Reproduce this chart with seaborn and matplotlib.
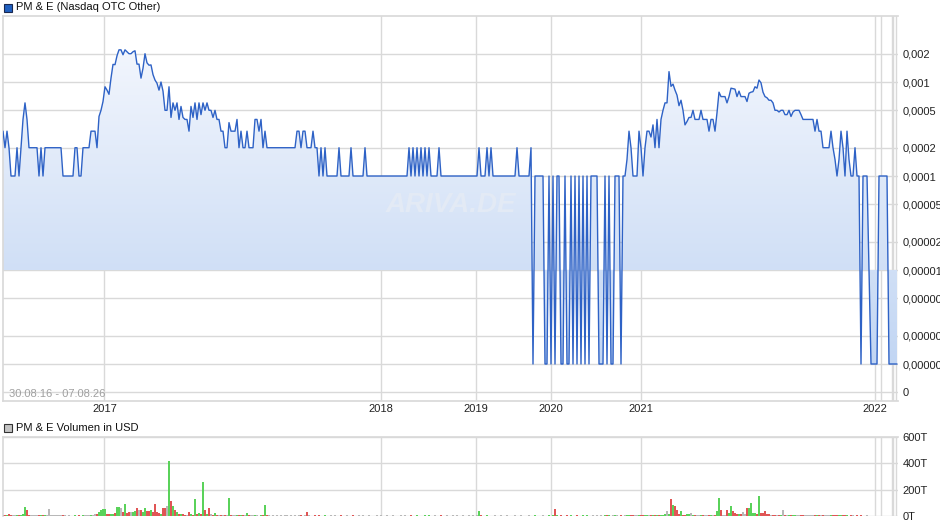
"""PM & E (Nasdaq OTC Other) price chart with volume panel"""
import numpy as np
import matplotlib
matplotlib.use('Agg')
import matplotlib.pyplot as plt
from matplotlib.colors import LinearSegmentedColormap
from matplotlib.patches import Rectangle
from matplotlib.ticker import NullLocator
import seaborn as sns

# Closing prices in millionths of a USD, one value per trading day with trades
price_micro = ([300, 200, 300, 200, 100, 100, 100, 200, 100, 200, 400, 600, 400, 200]
               + [200] * 4 + [100, 200, 100, 200] + [200] * 8 + [100] * 6
               + [200, 200, 100, 100] + [200] * 4 + [300] * 3 + [200]
               + [430, 500, 620, 890, 820, 740]
               + [1100, 1540, 1530, 1900, 2200, 2200, 1950, 2200, 2100, 2000, 2000, 2100, 2150]
               + [1550, 1550, 1100, 1400, 2000, 1600, 1510, 1520, 1200, 1050, 970, 820, 1000]
               + [800, 500, 500, 890, 420, 600, 500, 600, 400, 550, 420, 400, 400, 300]
               + [550, 420, 600, 400, 600, 450, 600, 500, 600, 500, 500, 420, 500, 400, 400,
                  300, 300, 200, 200, 370]
               + [300, 300, 300, 400, 200, 300, 200, 200, 300, 200, 200, 200, 400, 400, 300,
                  400, 200, 300, 200]
               + [200] * 14 + [300, 300, 200, 300, 300, 200, 200, 200, 300, 200, 200]
               + [100, 200, 100, 200, 100] + [100] * 5 + [200] + [100] * 5 + [200]
               + [100] * 6 + [200] + [100] * 21
               + [200, 100, 200, 100, 200, 100, 200, 100, 200, 100, 200]
               + [100] * 4 + [200] + [100] * 19 + [200] + [100] * 3 + [200, 100, 200]
               + [100] * 12 + [200] + [100] * 6 + [200] + [1] + [100] * 5 + [1, 1] + [100]
               + [1, 100, 1, 100, 100, 1, 1, 100, 1, 1, 100, 1, 100, 1, 100, 1, 100, 1, 100, 1]
               + [100] * 4 + [1] * 3 + [100, 1, 100, 1, 1, 100, 100, 100, 1, 100]
               + [100, 150, 300, 200, 100, 100, 100, 300, 200, 100, 200, 300, 300, 260, 350,
                  200, 400, 200, 400, 500, 600, 600, 1290, 900, 950, 820]
               + [725, 560, 640, 500, 350, 380, 420, 420, 500, 400, 400, 400, 500, 400, 400,
                  400, 300, 400, 400, 300]
               + [470, 780, 700, 700, 700, 600, 700, 860, 850, 840, 700, 800, 700, 700, 700,
                  620, 760, 780, 790, 890]
               + [860, 1050, 980, 780, 700, 680, 640, 640, 600, 500, 500, 480, 500, 500, 450,
                  450, 500, 430, 480, 500, 500, 500, 450, 400]
               + [400] * 5
               + [300, 400, 300, 300, 200, 200, 200, 200, 300, 200, 150, 100, 150, 300, 200,
                  100, 300, 150, 100, 100, 200, 100, 100]
               + [1, 100, 100, 100, 10, 1, 1, 1, 1, 100, 100, 100, 100, 100, 1, 1, 1, 1, 1])

# Daily volume in thousands of USD (T)
volume_k = ([10, 8, 12, 15, 8, 9, 10, 7, 8, 10, 20, 67, 48]
            + [12, 8, 7, 9, 7, 10, 10, 7, 12, 12] + [56]
            + [10, 7, 9, 10, 7, 12, 9, 7, 5, 7, 5, 5, 7, 5, 9, 5, 7]
            + [10, 12, 12, 10, 12, 15, 20]
            + [35, 45, 56, 56, 20, 15, 20, 18, 25]
            + [74, 74, 60, 30, 95, 25, 30, 30, 35, 40, 60, 50, 45]
            + [30, 65, 40, 40, 50, 35, 95, 30, 25, 20, 65, 62, 80]
            + [418, 118, 80, 45, 30, 15, 20, 15, 10, 10]
            + [35, 15, 12, 133, 15, 25, 15, 256, 50, 20, 65, 20]
            + [12, 25, 10, 8, 10, 8, 10, 9] + [141]
            + [10, 8, 9, 12, 8, 9, 7, 8, 28, 8, 7, 9, 8, 7, 5, 7, 9] + [87]
            + [7, 7, 5, 7, 5, 9, 5, 7, 5, 7, 10, 5, 7, 5, 7, 5, 7, 9, 5, 7] + [33]
            + [7, 5, 5, 9, 5, 7, 5, 5, 7, 5, 5, 7, 5, 10, 5, 5, 7, 5, 5, 7,
               5, 5, 7, 5, 5, 9, 5, 7, 5, 5, 7, 5, 5, 5, 7, 5, 12, 5, 5, 7,
               5, 5, 7, 5, 5, 5, 9, 5, 7, 5, 5, 7, 5, 5, 7, 5, 5, 5, 10, 5,
               7, 5, 5, 7, 5, 5, 9, 5, 5, 7, 5, 5, 7, 5, 10, 5, 5, 7, 5, 5]
            + [7, 5, 7, 5, 10] + [41]
            + [7, 5, 5, 7, 5, 5, 5, 7, 5, 5, 9, 5, 5, 7, 5, 5, 5, 7, 5, 5,
               7, 5, 5, 5, 9, 5, 5, 7, 5, 5, 5, 7, 5, 5, 7, 5]
            + [10, 56]
            + [9, 5, 7, 5, 5, 7, 5, 10, 5, 5, 7, 5, 5, 9, 5, 7, 5, 5, 10, 5, 7, 5, 9, 5, 7]
            + [12, 7, 5, 9, 10, 7, 5, 10, 5, 7, 10]
            + [10, 12, 9, 7, 10, 7, 9, 7, 10, 9, 7, 10, 9, 7, 12, 9, 10]
            + [10, 15, 41, 20, 133, 87, 79, 50, 15, 41, 10, 12, 15, 20, 25, 12, 10, 12, 10, 10,
               10, 12, 10, 10, 10, 12, 10]
            + [41, 141, 44, 10, 8, 44, 25, 79, 40, 25, 20, 15, 20, 30, 20, 60, 64, 97, 22, 22,
               20, 156, 22, 25, 41, 15, 15, 12, 10, 10, 8, 10, 8, 49, 8]
            + [10, 7, 9, 12, 7, 9, 7, 10, 7, 9, 12, 7, 9, 7, 10, 9, 7, 12, 7, 9,
               7, 10, 7, 9, 7, 7, 10, 7, 9, 7, 7, 5, 9, 7, 5, 7, 5, 7, 5, 5,
               7, 5, 5, 3, 5, 3, 3, 5, 3, 3, 3, 3, 3, 3, 3, 3])

# Year boundaries as trading-day index
year_labels = ['2017', '2018', '2019', '2020', '2021', '2022']
year_index = [50.75, 189, 236.5, 274, 319, 436]
later_year_index = [439, 444.5, 445, 446.5]  # 2023-2026, too close to label

price_ticks = [2e-3, 1e-3, 5e-4, 2e-4, 1e-4, 5e-5, 2e-5, 1e-5, 5e-6, 2e-6, 1e-6, 5e-7]
price_tick_labels = ['0,002', '0,001', '0,0005', '0,0002', '0,0001', '0,00005', '0,00002',
                     '0,00001', '0,000005', '0,000002', '0,000001', '0']
volume_ticks = [0, 200, 400, 600]
volume_tick_labels = ['0T', '200T', '400T', '600T']

price = np.array(price_micro) * 1e-6
volume = np.array(volume_k)
idx = np.arange(len(price))

sns.set_theme(style='white')
plt.rcParams['font.family'] = ['Liberation Sans', 'DejaVu Sans']
GRID = '#d9d9d9'

W, H = 940, 526
fig = plt.figure(figsize=(W / 100, H / 100), dpi=100)
ax = fig.add_axes([3 / W, 1 - 401 / H, 895 / W, 385 / H])
vax = fig.add_axes([3 / W, 1 - 516.3 / H, 895 / W, 79.3 / H])

# --- price panel ---
ax.set_yscale('log')
ax.set_autoscale_on(False)
ax.set_xlim(0, len(price) - 0.5)
ax.set_ylim(4.04e-7, 5.04e-3)

# gradient area between the line and the 0,00001 level
fill = ax.fill_between(idx, price, 1e-5, facecolor='none', edgecolor='none')
cmap = LinearSegmentedColormap.from_list('fade', ['#bcd2f2', '#f7f9fe'])
grad = np.linspace(0, 1, 256).reshape(-1, 1)
img = ax.imshow(grad, extent=[0, 1, 0, 1], transform=ax.transAxes, origin='lower',
                cmap=cmap, aspect='auto', zorder=1, interpolation='bilinear')
img.set_clip_path(fill.get_paths()[0], transform=ax.transData)

sns.lineplot(x=idx, y=price, ax=ax, color='#2e62c6', linewidth=1.0, zorder=3)
ax.set_xlim(0, len(price) - 0.5)
ax.set_ylim(4.04e-7, 5.04e-3)

ax.set_yticks(price_ticks)
ax.set_yticklabels(price_tick_labels)
ax.yaxis.set_minor_locator(NullLocator())
ax.yaxis.tick_right()
ax.set_xticks(year_index + later_year_index)
ax.set_xticklabels(year_labels + [''] * len(later_year_index))
ax.tick_params(axis='y', length=0, pad=3.5, labelsize=8, labelcolor='#222222')
ax.tick_params(axis='x', length=0, pad=2, labelsize=8, labelcolor='#222222')
ax.grid(True, color=GRID, linewidth=1)
ax.set_axisbelow(True)
for side in ['left', 'top', 'bottom']:
    ax.spines[side].set_color(GRID)
ax.spines['right'].set_visible(False)
ax.set_xlabel('')
ax.set_ylabel('')

ax.text(0.5, 0.51, 'ARIVA.DE', transform=ax.transAxes, ha='center', va='center',
        fontsize=20, fontstyle='italic', fontweight='bold', color='#e3eaf5', zorder=2)
ax.text(6 / 895, (401 - 394) / 385, '30.08.16 - 07.08.26', transform=ax.transAxes,
        ha='left', va='center', fontsize=8, color='#a0a0a0', zorder=4)

# --- volume panel ---
colors = ['#b8b8b8']
for prev, cur in zip(price[:-1], price[1:]):
    colors.append('#5ad25a' if cur > prev else '#e05555' if cur < prev else '#b8b8b8')
vax.bar(idx, volume, width=0.7, color=colors, linewidth=0, zorder=3)
vax.set_xlim(0, len(price) - 0.5)
vax.set_ylim(0, 600)
vax.set_yticks(volume_ticks)
vax.set_yticklabels(volume_tick_labels)
vax.yaxis.tick_right()
vax.set_xticks(year_index + later_year_index)
vax.set_xticklabels([])
vax.tick_params(axis='both', length=0, pad=3.5, labelsize=8, labelcolor='#222222')
vax.grid(True, color=GRID, linewidth=1)
vax.set_axisbelow(True)
for side in ['left', 'top']:
    vax.spines[side].set_color(GRID)
for side in ['right', 'bottom']:
    vax.spines[side].set_visible(False)

# --- panel titles ---
fig.patches.append(Rectangle((4 / W, 1 - 12 / H), 8 / W, 8 / H, transform=fig.transFigure,
                             facecolor='#2060c0', edgecolor='#1a2850', linewidth=0.8))
fig.text(16 / W, 1 - 7.5 / H, 'PM & E (Nasdaq OTC Other)', ha='left', va='center',
         fontsize=8, color='#111111')
fig.patches.append(Rectangle((4 / W, 1 - 432 / H), 8 / W, 8 / H, transform=fig.transFigure,
                             facecolor='#c4c4c4', edgecolor='#333333', linewidth=0.8))
fig.text(16 / W, 1 - 428 / H, 'PM & E Volumen in USD', ha='left', va='center',
         fontsize=8, color='#111111')

fig.savefig('out.png', dpi=100)
